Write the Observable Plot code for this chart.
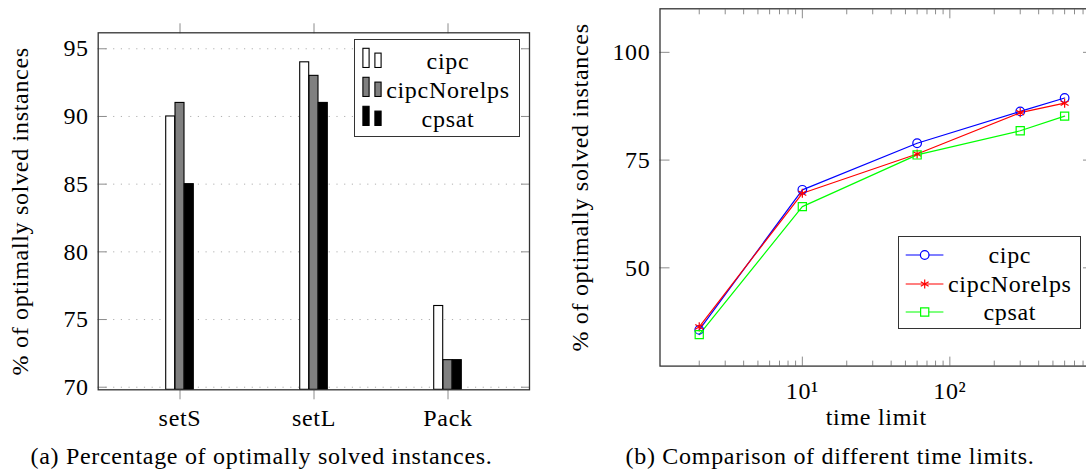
<!DOCTYPE html>
<html>
<head>
<meta charset="utf-8">
<script src="https://cdn.jsdelivr.net/npm/d3@7"></script>
<script src="https://cdn.jsdelivr.net/npm/@observablehq/plot@0.6"></script>
<style>
  html, body { margin: 0; padding: 0; background: #fff; }
  body { width: 1086px; height: 471px; overflow: hidden; position: relative;
         font-family: "Liberation Serif", serif; color: #000; }
  svg { max-width: none !important; }
  svg text, .legtext, .caption { font-family: "Liberation Serif", serif !important; letter-spacing: 0.7px; }
  .abs { position: absolute; }
  .caption { position: absolute; font-size: 24px; line-height: 24px; white-space: nowrap; transform: translateX(-50%); }
  .legend { position: absolute; border: 1.3px solid #333; box-sizing: border-box; background: #fff; }
  .legtext { position: absolute; font-size: 24px; line-height: 24px; white-space: nowrap; transform: translate(-50%, -50%); }
</style>
</head>
<body>
<div id="left" class="abs" style="left:0;top:0;width:540px"></div>
<div id="right" class="abs" style="left:540px;top:0;width:552px"></div>
<script>
// ---------- data: panel (a) ----------
const categories = ["setS", "setL", "Pack"];
const seriesNames = ["cipc", "cipcNorelps", "cpsat"];
const cipcPct = [90, 94, 76];
const cipcNorelpsPct = [91, 93, 72];
const cpsatPct = [85, 91, 72];
const barYTicks = [70, 75, 80, 85, 90, 95];

// ---------- data: panel (b) ----------
const timeLimits = [2, 10, 60, 300, 600];
const cipcByTime = [35.6, 68.1, 78.9, 86.3, 89.4];
const cipcNorelpsByTime = [36.3, 67.3, 76.4, 86.0, 88.2];
const cpsatByTime = [34.5, 64.2, 76.2, 81.8, 85.2];
const lineYTicks = [50, 75, 100];
const logMajorTicks = [10, 100];
const logMajorLabels = ["10\u00B9", "10\u00B2"];
const logMinorTicks = [2,3,4,5,6,7,8,9,20,30,40,50,60,70,80,90,200,300,400,500,600,700,800,900];

const yAxisLabel = "% of optimally solved instances";
const xAxisLabel = "time limit";
const captionA = "(a) Percentage of optimally solved instances.";
const captionB = "(b) Comparison of different time limits.";

// styles
const barFills = ["#ffffff", "#808080", "#000000"];
const lineColors = ["#0000ff", "#ff0000", "#00ff00"];
const lineSymbols = ["circle", "asterisk", "square"];
const FONT = "Liberation Serif";
const TICK = "#8c8c8c";

// ---------- panel (a) ----------
const barValues = [cipcPct, cipcNorelpsPct, cpsatPct];
const barRows = seriesNames.flatMap((s, si) =>
  categories.map((c, ci) => ({series: s, category: c, value: barValues[si][ci]})));

const A = {width: 540, height: 440, ml: 97.7, mr: 11, mt: 32.3, mb: 50.7};
const padInner = 0.9309, padOuter = 0.569;
const frameW = A.width - A.ml - A.mr;
const step = frameW / (categories.length - padInner + 2 * padOuter);
const bw = step * (1 - padInner);
const yDomA = [69.81, 96.18];

const plotA = Plot.plot({
  width: A.width, height: A.height,
  marginLeft: A.ml, marginRight: A.mr, marginTop: A.mt, marginBottom: A.mb,
  style: {fontFamily: FONT, fontSize: "24px", background: "transparent", color: "#000", overflow: "visible"},
  x: {type: "band", domain: categories, paddingInner: padInner, paddingOuter: padOuter, label: null},
  y: {domain: yDomA, label: null},
  marks: [
    Plot.ruleY(barYTicks, {stroke: "#b0b0b0", strokeDasharray: "1.2,6.5"}),
    ...seriesNames.map((s, i) => Plot.barY(barRows.filter(r => r.series === s), {
      x: "category", y1: yDomA[0], y2: "value", dx: (i - 1) * bw,
      fill: barFills[i], stroke: "#000", strokeWidth: 1.1
    })),
    Plot.axisY(barYTicks, {anchor: "left", tickSize: -9, tickPadding: 18.4, stroke: TICK, fill: "#000", fontSize: 24, fontFamily: FONT, label: null}),
    Plot.axisY(barYTicks, {anchor: "right", tickSize: -9, tickFormat: () => "", stroke: TICK, label: null}),
    Plot.axisX({anchor: "bottom", tickSize: 10, tickPadding: 8.7, stroke: TICK, fill: "#000", fontSize: 24, fontFamily: FONT, label: null}),
    Plot.axisX({anchor: "top", tickSize: 10, tickFormat: () => "", stroke: TICK, label: null}),
    Plot.frame({stroke: "#333", strokeWidth: 1.3}),
    Plot.text([yAxisLabel], {frameAnchor: "left", dx: -77.7, rotate: -90, textAnchor: "middle", lineAnchor: "middle",
      fontSize: 24, fontFamily: FONT, text: d => d})
  ]
});
document.getElementById("left").appendChild(plotA);

// ---------- panel (b) ----------
const lineValues = [cipcByTime, cipcNorelpsByTime, cpsatByTime];
const lineRows = seriesNames.flatMap((s, si) =>
  timeLimits.map((t, ti) => ({series: s, t, value: lineValues[si][ti]})));

const B = {width: 552, height: 440, ml: 119.5, mr: 0, mt: 8.3, mb: 74.4};
const plotB = Plot.plot({
  width: B.width, height: B.height,
  marginLeft: B.ml, marginRight: B.mr, marginTop: B.mt, marginBottom: B.mb,
  style: {fontFamily: FONT, fontSize: "24px", background: "transparent", color: "#000", overflow: "visible"},
  x: {type: "log", domain: [1.084, 927], label: null},
  y: {domain: [27.2, 110.1], label: null},
  marks: [
    Plot.axisX(logMinorTicks, {anchor: "bottom", tickSize: -5, tickFormat: () => "", stroke: TICK, label: null}),
    Plot.axisX(logMinorTicks, {anchor: "top", tickSize: -5, tickFormat: () => "", stroke: TICK, label: null}),
    Plot.axisX(logMajorTicks, {anchor: "bottom", tickSize: -9, tickPadding: 25, stroke: TICK, fill: "#000", fontSize: 24, fontFamily: FONT,
      tickFormat: d => logMajorLabels[logMajorTicks.indexOf(d)], label: null}),
    Plot.axisX(logMajorTicks, {anchor: "top", tickSize: -9, tickFormat: () => "", stroke: TICK, label: null}),
    Plot.axisY(lineYTicks, {anchor: "left", tickSize: -10, tickPadding: 19.5, stroke: TICK, fill: "#000", fontSize: 24, fontFamily: FONT, label: null}),
    Plot.axisY(lineYTicks, {anchor: "right", tickSize: -10, tickFormat: () => "", stroke: TICK, label: null}),
    ...seriesNames.map((s, i) => Plot.line(lineRows.filter(r => r.series === s), {
      x: "t", y: "value", stroke: lineColors[i], strokeWidth: 1.2
    })),
    ...seriesNames.map((s, i) => Plot.dot(lineRows.filter(r => r.series === s), {
      x: "t", y: "value", stroke: lineColors[i], fill: "none", strokeWidth: 1.2,
      symbol: lineSymbols[i], r: i === 2 ? 4.6 : 4.3
    })),
    Plot.frame({stroke: "#333", strokeWidth: 1.3}),
    Plot.text([yAxisLabel], {frameAnchor: "left", dx: -80, rotate: -90, textAnchor: "middle", lineAnchor: "middle",
      fontSize: 24, fontFamily: FONT, text: d => d}),
    Plot.text([xAxisLabel], {frameAnchor: "bottom", dy: 51.4, textAnchor: "middle", lineAnchor: "middle",
      fontSize: 24, fontFamily: FONT, text: d => d})
  ]
});
document.getElementById("right").appendChild(plotB);

// ---------- captions ----------
function caption(text, cx, top) {
  const d = document.createElement("div");
  d.className = "caption";
  d.textContent = text;
  d.style.left = cx + "px";
  d.style.top = top + "px";
  document.body.appendChild(d);
}
caption(captionA, 261.5, 444);
caption(captionB, 830, 444);

// ---------- legends ----------
function legendBox(left, top, w, h) {
  const d = document.createElement("div");
  d.className = "legend";
  Object.assign(d.style, {left: left + "px", top: top + "px", width: w + "px", height: h + "px"});
  document.body.appendChild(d);
  return d;
}
function legText(box, text, cx, cy) {
  const t = document.createElement("div");
  t.className = "legtext";
  t.textContent = text;
  t.style.left = cx + "px";
  t.style.top = cy + "px";
  box.appendChild(t);
}
const NS = "http://www.w3.org/2000/svg";
function svgEl(tag, attrs) {
  const e = document.createElementNS(NS, tag);
  for (const k in attrs) e.setAttribute(k, attrs[k]);
  return e;
}

// legend (a)
const legA = legendBox(354.3, 39.3, 165.7, 97.4);
const rowA = [20.7, 50.2, 78.7];
seriesNames.forEach((s, i) => {
  const svg = svgEl("svg", {width: 30, height: 26});
  svg.style.position = "absolute";
  svg.style.left = "4px";
  svg.style.top = (rowA[i] - 19) + "px";
  svg.appendChild(svgEl("rect", {x: 3.9, y: 25.5 - 19.2, width: 6.2, height: 19.2, fill: barFills[i], stroke: "#000", "stroke-width": 1.1}));
  svg.appendChild(svgEl("rect", {x: 15.9, y: 25.5 - 14.4, width: 6.2, height: 14.4, fill: barFills[i], stroke: "#000", "stroke-width": 1.1}));
  legA.appendChild(svg);
  legText(legA, s, 92.7, rowA[i]);
});

// legend (b)
const legB = legendBox(898.3, 235.7, 182.7, 93.6);
const rowB = [18.3, 47, 75];
const sym = {circle: d3.symbolCircle, asterisk: d3.symbolAsterisk, square: d3.symbolSquare};
seriesNames.forEach((s, i) => {
  const svg = svgEl("svg", {width: 50, height: 20});
  svg.style.position = "absolute";
  svg.style.left = "0px";
  svg.style.top = (rowB[i] - 10) + "px";
  svg.appendChild(svgEl("line", {x1: 6.7, x2: 44.4, y1: 10, y2: 10, stroke: lineColors[i], "stroke-width": 1.2}));
  const r = i === 2 ? 4.6 : 4.3;
  const p = d3.symbol(sym[lineSymbols[i]], Math.PI * r * r)();
  svg.appendChild(svgEl("path", {d: p, transform: "translate(25.7,10)", fill: i === 0 || i === 2 ? "#fff" : "none", stroke: lineColors[i], "stroke-width": 1.2}));
  legB.appendChild(svg);
  legText(legB, s, 110.5, rowB[i]);
});
</script>
</body>
</html>
